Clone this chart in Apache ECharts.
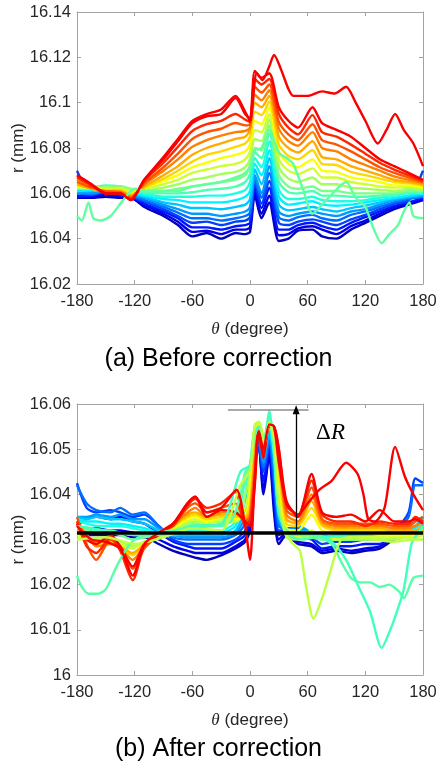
<!DOCTYPE html>
<html>
<head>
<meta charset="utf-8">
<script src="https://cdn.jsdelivr.net/npm/echarts@6/dist/echarts.min.js"></script>
<style>
  html, body { margin: 0; padding: 0; background: #fff; }
  #chart { width: 437px; height: 762px; }
</style>
</head>
<body>
<div id="chart"></div>
<script>
// ---- (a) before correction: theta grid shared by the 20 band lines (dark blue -> red)
const thetaTop = [-180, -165, -150, -135, -124, -110, -90, -75, -60, -45, -30, -15, -5, 0, 5, 12, 20, 30, 40, 50, 65, 75, 90, 105, 120, 135, 150, 165, 180];

const beforeLines = [
  [16.058, 16.058, 16.0585, 16.058, 16.058, 16.054, 16.050, 16.046, 16.041, 16.0425, 16.040, 16.0425, 16.042, 16.043, 16.059, 16.049, 16.056, 16.039, 16.040, 16.0435, 16.044, 16.041, 16.040, 16.044, 16.047, 16.050, 16.053, 16.055, 16.057],
  [16.059, 16.0585, 16.0595, 16.0585, 16.058, 16.055, 16.051, 16.0475, 16.043, 16.0435, 16.042, 16.044, 16.044, 16.045, 16.061, 16.051, 16.059, 16.0415, 16.042, 16.0445, 16.0455, 16.044, 16.042, 16.0455, 16.048, 16.051, 16.054, 16.0555, 16.0575],
  [16.0585, 16.059, 16.060, 16.059, 16.0585, 16.0555, 16.052, 16.049, 16.045, 16.045, 16.044, 16.0455, 16.046, 16.047, 16.0625, 16.0535, 16.0625, 16.044, 16.044, 16.046, 16.047, 16.0455, 16.044, 16.047, 16.0495, 16.052, 16.0545, 16.056, 16.058],
  [16.070, 16.060, 16.0605, 16.0595, 16.0585, 16.0565, 16.053, 16.050, 16.047, 16.0475, 16.046, 16.0475, 16.048, 16.0495, 16.0645, 16.0555, 16.0655, 16.047, 16.046, 16.0475, 16.0485, 16.0475, 16.046, 16.0485, 16.0505, 16.053, 16.0555, 16.057, 16.070],
  [16.060, 16.0595, 16.061, 16.060, 16.059, 16.057, 16.054, 16.0515, 16.049, 16.049, 16.048, 16.049, 16.050, 16.0515, 16.066, 16.058, 16.069, 16.0495, 16.048, 16.0495, 16.0505, 16.049, 16.048, 16.0505, 16.052, 16.054, 16.056, 16.0575, 16.0585],
  [16.0605, 16.060, 16.061, 16.060, 16.059, 16.058, 16.055, 16.053, 16.051, 16.051, 16.050, 16.051, 16.052, 16.054, 16.068, 16.060, 16.072, 16.052, 16.050, 16.051, 16.052, 16.051, 16.050, 16.052, 16.053, 16.055, 16.057, 16.058, 16.059],
  [16.061, 16.061, 16.062, 16.061, 16.060, 16.0585, 16.056, 16.055, 16.0535, 16.0535, 16.053, 16.054, 16.055, 16.0575, 16.0705, 16.064, 16.0755, 16.055, 16.0525, 16.053, 16.054, 16.053, 16.052, 16.0535, 16.0545, 16.056, 16.0575, 16.0585, 16.0595],
  [16.061, 16.0615, 16.0625, 16.062, 16.0605, 16.059, 16.0575, 16.057, 16.056, 16.056, 16.056, 16.057, 16.0585, 16.061, 16.073, 16.068, 16.079, 16.0585, 16.055, 16.0555, 16.0565, 16.055, 16.0545, 16.055, 16.056, 16.057, 16.058, 16.059, 16.060],
  [16.062, 16.062, 16.063, 16.0625, 16.061, 16.060, 16.0585, 16.0585, 16.0585, 16.059, 16.059, 16.060, 16.0615, 16.065, 16.0755, 16.0715, 16.083, 16.0615, 16.0575, 16.0575, 16.0585, 16.057, 16.0565, 16.0565, 16.057, 16.058, 16.059, 16.060, 16.060],
  [16.062, 16.0625, 16.0635, 16.063, 16.0615, 16.0605, 16.060, 16.060, 16.0605, 16.0615, 16.062, 16.063, 16.065, 16.0685, 16.078, 16.0755, 16.0865, 16.065, 16.0605, 16.060, 16.061, 16.059, 16.059, 16.0585, 16.0585, 16.059, 16.0595, 16.0605, 16.0605],
  [16.062, 16.062, 16.063, 16.063, 16.062, 16.061, 16.061, 16.062, 16.063, 16.064, 16.065, 16.066, 16.068, 16.072, 16.080, 16.079, 16.090, 16.068, 16.063, 16.062, 16.063, 16.061, 16.061, 16.060, 16.060, 16.060, 16.060, 16.061, 16.061],
  [16.063, 16.063, 16.0625, 16.0625, 16.0615, 16.0615, 16.0625, 16.064, 16.066, 16.067, 16.0685, 16.0695, 16.0715, 16.075, 16.084, 16.083, 16.0925, 16.0715, 16.0665, 16.065, 16.067, 16.064, 16.064, 16.0625, 16.062, 16.0615, 16.061, 16.062, 16.0615],
  [16.0625, 16.0625, 16.062, 16.062, 16.061, 16.062, 16.064, 16.066, 16.069, 16.0705, 16.072, 16.073, 16.075, 16.0785, 16.088, 16.087, 16.095, 16.075, 16.070, 16.0685, 16.071, 16.067, 16.067, 16.065, 16.064, 16.063, 16.0625, 16.063, 16.062],
  [16.0635, 16.062, 16.0615, 16.0615, 16.060, 16.0625, 16.0655, 16.068, 16.0715, 16.0735, 16.0755, 16.077, 16.0785, 16.0815, 16.092, 16.0905, 16.098, 16.0785, 16.073, 16.0715, 16.075, 16.070, 16.0695, 16.067, 16.066, 16.065, 16.0635, 16.0635, 16.063],
  [16.064, 16.0625, 16.061, 16.0615, 16.0595, 16.0625, 16.0665, 16.070, 16.074, 16.077, 16.0785, 16.0805, 16.082, 16.085, 16.096, 16.0945, 16.1005, 16.0815, 16.0765, 16.075, 16.079, 16.073, 16.0725, 16.0695, 16.068, 16.0665, 16.065, 16.0645, 16.0635],
  [16.064, 16.062, 16.061, 16.061, 16.059, 16.063, 16.068, 16.072, 16.077, 16.080, 16.082, 16.084, 16.085, 16.088, 16.100, 16.098, 16.103, 16.085, 16.080, 16.078, 16.083, 16.076, 16.075, 16.072, 16.070, 16.068, 16.066, 16.065, 16.064],
  [16.066, 16.063, 16.0605, 16.0605, 16.0585, 16.064, 16.070, 16.075, 16.0805, 16.0835, 16.0855, 16.087, 16.0875, 16.089, 16.1035, 16.101, 16.1055, 16.0885, 16.083, 16.081, 16.087, 16.080, 16.0785, 16.075, 16.0725, 16.070, 16.0675, 16.066, 16.0645],
  [16.065, 16.0625, 16.061, 16.0605, 16.058, 16.0645, 16.0715, 16.0775, 16.084, 16.087, 16.0885, 16.091, 16.090, 16.0905, 16.107, 16.1045, 16.108, 16.0915, 16.086, 16.0835, 16.0905, 16.0835, 16.0815, 16.0785, 16.075, 16.0715, 16.069, 16.067, 16.065],
  [16.067, 16.0635, 16.060, 16.060, 16.0575, 16.0655, 16.0735, 16.0805, 16.0875, 16.0905, 16.092, 16.095, 16.0925, 16.0915, 16.1105, 16.108, 16.1105, 16.095, 16.089, 16.086, 16.0945, 16.087, 16.085, 16.0815, 16.0775, 16.0735, 16.0705, 16.068, 16.0655],
  [16.068, 16.064, 16.060, 16.060, 16.057, 16.066, 16.075, 16.083, 16.091, 16.094, 16.095, 16.102, 16.095, 16.093, 16.114, 16.111, 16.113, 16.098, 16.092, 16.089, 16.098, 16.091, 16.088, 16.085, 16.080, 16.075, 16.072, 16.069, 16.066]
];

// the two stray traces of panel (a)
const greenTopTheta = [-180, -175, -168, -163, -155, -145, -132, -120, -105, -90, -75, -60, -45, -30, -15, -5, 0, 5, 12, 20, 30, 40, 45, 55, 65, 75, 86, 100, 110, 120, 128, 137, 145, 154, 160, 166, 170, 180];
const greenTopR = [16.050, 16.048, 16.056, 16.049, 16.048, 16.050, 16.057, 16.062, 16.061, 16.061, 16.061, 16.063, 16.064, 16.065, 16.067, 16.069, 16.072, 16.079, 16.080, 16.088, 16.078, 16.075, 16.073, 16.062, 16.051, 16.055, 16.060, 16.065, 16.058, 16.054, 16.045, 16.038, 16.042, 16.046, 16.052, 16.056, 16.050, 16.049];
const redTopTheta = [-180, -165, -150, -135, -124, -110, -90, -75, -60, -45, -30, -15, -5, 0, 7, 13, 20, 25, 32, 40, 45, 60, 75, 88, 100, 110, 120, 133, 142, 151, 160, 170, 180];
const redTopR = [16.068, 16.064, 16.060, 16.060, 16.057, 16.066, 16.076, 16.084, 16.092, 16.095, 16.097, 16.103, 16.096, 16.092, 16.113, 16.110, 16.116, 16.121, 16.115, 16.106, 16.103, 16.103, 16.105, 16.104, 16.107, 16.100, 16.092, 16.082, 16.088, 16.095, 16.088, 16.082, 16.072];

// ---- (b) after correction
const thetaBottom = [-180, -170, -160, -145, -135, -122, -110, -95, -80, -65, -57, -45, -30, -15, -5, 0, 5, 9, 14, 20, 25, 30, 38, 50, 64, 75, 90, 105, 120, 135, 150, 165, 172, 180];

const afterLines = [
  [16.0315, 16.031, 16.031, 16.031, 16.031, 16.0305, 16.0305, 16.029, 16.0275, 16.0265, 16.026, 16.0255, 16.0265, 16.028, 16.0295, 16.032, 16.046, 16.0515, 16.040, 16.0485, 16.036, 16.029, 16.031, 16.029, 16.0285, 16.027, 16.0275, 16.027, 16.0275, 16.028, 16.030, 16.031, 16.0315, 16.0315],
  [16.032, 16.032, 16.0325, 16.032, 16.032, 16.0315, 16.031, 16.030, 16.0285, 16.0275, 16.027, 16.027, 16.027, 16.0285, 16.030, 16.033, 16.047, 16.051, 16.041, 16.049, 16.038, 16.030, 16.0315, 16.0295, 16.029, 16.0275, 16.028, 16.0275, 16.028, 16.0285, 16.0305, 16.0315, 16.032, 16.032],
  [16.033, 16.0345, 16.035, 16.0345, 16.035, 16.034, 16.0335, 16.0315, 16.0295, 16.0285, 16.028, 16.028, 16.028, 16.0295, 16.031, 16.035, 16.048, 16.0505, 16.043, 16.050, 16.040, 16.031, 16.0315, 16.0305, 16.030, 16.028, 16.0285, 16.0285, 16.029, 16.029, 16.031, 16.032, 16.033, 16.033],
  [16.0425, 16.037, 16.036, 16.0365, 16.036, 16.035, 16.0355, 16.033, 16.030, 16.029, 16.029, 16.029, 16.029, 16.030, 16.032, 16.037, 16.049, 16.050, 16.045, 16.051, 16.042, 16.032, 16.032, 16.031, 16.0305, 16.029, 16.0295, 16.0295, 16.030, 16.030, 16.032, 16.036, 16.0435, 16.0425],
  [16.042, 16.038, 16.0365, 16.036, 16.037, 16.0355, 16.036, 16.033, 16.0305, 16.030, 16.030, 16.030, 16.030, 16.031, 16.0335, 16.040, 16.050, 16.051, 16.046, 16.052, 16.044, 16.033, 16.0325, 16.0325, 16.031, 16.030, 16.030, 16.030, 16.0305, 16.031, 16.032, 16.035, 16.042, 16.042],
  [16.035, 16.035, 16.0355, 16.035, 16.0355, 16.0345, 16.0345, 16.0325, 16.031, 16.0305, 16.0305, 16.0305, 16.0305, 16.0315, 16.035, 16.043, 16.051, 16.052, 16.047, 16.053, 16.046, 16.034, 16.032, 16.033, 16.0315, 16.0305, 16.0305, 16.0305, 16.031, 16.0315, 16.0325, 16.033, 16.034, 16.035],
  [16.035, 16.0345, 16.035, 16.0345, 16.0345, 16.034, 16.0335, 16.032, 16.031, 16.031, 16.031, 16.031, 16.031, 16.032, 16.037, 16.045, 16.052, 16.053, 16.048, 16.054, 16.048, 16.035, 16.032, 16.032, 16.0315, 16.031, 16.0305, 16.031, 16.031, 16.0315, 16.032, 16.0325, 16.033, 16.035],
  [16.0345, 16.034, 16.034, 16.0335, 16.0335, 16.033, 16.0325, 16.0315, 16.031, 16.0315, 16.0315, 16.0315, 16.0315, 16.033, 16.040, 16.046, 16.053, 16.0535, 16.049, 16.055, 16.049, 16.036, 16.032, 16.0315, 16.031, 16.0305, 16.031, 16.031, 16.031, 16.0315, 16.032, 16.032, 16.0325, 16.0345],
  [16.034, 16.0335, 16.033, 16.033, 16.033, 16.0325, 16.032, 16.0315, 16.0315, 16.032, 16.032, 16.032, 16.032, 16.034, 16.043, 16.0465, 16.054, 16.054, 16.050, 16.056, 16.050, 16.037, 16.0315, 16.031, 16.031, 16.0305, 16.0305, 16.0305, 16.031, 16.031, 16.0315, 16.032, 16.032, 16.034],
  [16.033, 16.0325, 16.032, 16.032, 16.0315, 16.031, 16.031, 16.031, 16.0315, 16.0325, 16.033, 16.033, 16.033, 16.0355, 16.045, 16.046, 16.0545, 16.055, 16.051, 16.057, 16.051, 16.038, 16.0315, 16.031, 16.0305, 16.030, 16.0305, 16.0305, 16.0305, 16.0305, 16.031, 16.0315, 16.0315, 16.033],
  [16.0325, 16.032, 16.0315, 16.0315, 16.031, 16.030, 16.0305, 16.031, 16.032, 16.033, 16.0335, 16.033, 16.0335, 16.035, 16.044, 16.046, 16.055, 16.0555, 16.0515, 16.0575, 16.051, 16.038, 16.031, 16.0305, 16.0305, 16.030, 16.030, 16.030, 16.030, 16.030, 16.0305, 16.031, 16.031, 16.0325],
  [16.031, 16.0305, 16.030, 16.0305, 16.0295, 16.0285, 16.0295, 16.0305, 16.032, 16.0335, 16.034, 16.0335, 16.034, 16.034, 16.040, 16.045, 16.055, 16.056, 16.0515, 16.0565, 16.052, 16.039, 16.0305, 16.030, 16.031, 16.030, 16.030, 16.030, 16.030, 16.030, 16.030, 16.0305, 16.0305, 16.031],
  [16.031, 16.030, 16.0295, 16.030, 16.029, 16.028, 16.0295, 16.0305, 16.0325, 16.034, 16.0345, 16.0335, 16.0345, 16.034, 16.037, 16.043, 16.0555, 16.056, 16.051, 16.0555, 16.053, 16.041, 16.031, 16.0305, 16.032, 16.0305, 16.030, 16.0305, 16.0305, 16.0305, 16.0305, 16.0305, 16.0305, 16.031],
  [16.0315, 16.030, 16.029, 16.0295, 16.0285, 16.027, 16.029, 16.031, 16.0325, 16.0345, 16.035, 16.034, 16.035, 16.0345, 16.0355, 16.040, 16.053, 16.0555, 16.051, 16.055, 16.0535, 16.043, 16.0325, 16.032, 16.0355, 16.032, 16.0315, 16.0315, 16.0315, 16.031, 16.031, 16.031, 16.031, 16.0315],
  [16.032, 16.0305, 16.0295, 16.0295, 16.028, 16.0265, 16.029, 16.031, 16.033, 16.035, 16.0355, 16.0345, 16.035, 16.035, 16.035, 16.038, 16.051, 16.055, 16.051, 16.055, 16.054, 16.045, 16.0335, 16.033, 16.037, 16.033, 16.032, 16.032, 16.032, 16.032, 16.0315, 16.0315, 16.0315, 16.032],
  [16.033, 16.031, 16.0295, 16.030, 16.0285, 16.027, 16.029, 16.0315, 16.033, 16.0355, 16.036, 16.035, 16.0355, 16.0355, 16.0345, 16.0365, 16.049, 16.055, 16.0515, 16.055, 16.054, 16.047, 16.0345, 16.0335, 16.0385, 16.0335, 16.0325, 16.0325, 16.0325, 16.0325, 16.032, 16.032, 16.032, 16.033],
  [16.034, 16.031, 16.0285, 16.029, 16.028, 16.0255, 16.0285, 16.0315, 16.0335, 16.036, 16.037, 16.035, 16.036, 16.036, 16.034, 16.0355, 16.047, 16.0545, 16.050, 16.055, 16.0545, 16.048, 16.0355, 16.034, 16.040, 16.034, 16.033, 16.033, 16.033, 16.033, 16.0325, 16.0325, 16.033, 16.034],
  [16.035, 16.029, 16.0255, 16.030, 16.028, 16.0235, 16.028, 16.031, 16.0335, 16.037, 16.038, 16.036, 16.037, 16.038, 16.034, 16.035, 16.045, 16.0545, 16.0495, 16.0555, 16.055, 16.049, 16.0365, 16.035, 16.0415, 16.0345, 16.0335, 16.0335, 16.0335, 16.0335, 16.033, 16.033, 16.034, 16.035],
  [16.034, 16.0285, 16.027, 16.0305, 16.0275, 16.021, 16.0285, 16.0315, 16.033, 16.0375, 16.039, 16.037, 16.038, 16.0405, 16.033, 16.034, 16.043, 16.0545, 16.049, 16.0555, 16.055, 16.050, 16.0375, 16.0355, 16.043, 16.0355, 16.034, 16.034, 16.033, 16.034, 16.0335, 16.0335, 16.035, 16.034],
  [16.0335, 16.030, 16.029, 16.031, 16.0285, 16.024, 16.029, 16.031, 16.0335, 16.038, 16.0395, 16.035, 16.0365, 16.036, 16.034, 16.033, 16.042, 16.054, 16.048, 16.055, 16.055, 16.050, 16.0385, 16.035, 16.0445, 16.036, 16.035, 16.0355, 16.034, 16.0365, 16.034, 16.034, 16.0345, 16.0335]
];

const redBottomTheta = [-180, -165, -150, -135, -122, -110, -95, -80, -65, -57, -45, -30, -14, -5, 0, 5, 9, 14, 20, 25, 30, 38, 50, 60, 72, 85, 100, 112, 118, 123, 130, 140, 151, 161, 170, 180];
const redBottomR = [16.033, 16.030, 16.0295, 16.028, 16.022, 16.029, 16.0315, 16.0335, 16.038, 16.0395, 16.036, 16.037, 16.041, 16.033, 16.0255, 16.044, 16.054, 16.050, 16.0555, 16.055, 16.047, 16.038, 16.0355, 16.038, 16.041, 16.043, 16.047, 16.0445, 16.040, 16.0345, 16.034, 16.037, 16.0505, 16.044, 16.040, 16.0365];
const mintBottomTheta = [-180, -175, -168, -158, -150, -140, -130, -120, -100, -80, -60, -40, -20, -5, 0, 5, 10, 15, 20, 25, 30, 40, 55, 70, 85, 95, 105, 115, 125, 135, 145, 155, 160, 170, 180];
const mintBottomR = [16.022, 16.0195, 16.018, 16.018, 16.019, 16.0235, 16.0275, 16.030, 16.0315, 16.032, 16.0325, 16.033, 16.034, 16.043, 16.046, 16.053, 16.0545, 16.052, 16.057, 16.050, 16.036, 16.031, 16.030, 16.0305, 16.029, 16.025, 16.0215, 16.0205, 16.0205, 16.0195, 16.020, 16.0185, 16.017, 16.0215, 16.022];
const tealBottomTheta = [-180, -150, -120, -90, -60, -30, -10, 0, 5, 10, 15, 20, 25, 30, 40, 55, 70, 85, 100, 112, 125, 137, 145, 152, 160, 168, 175, 180];
const tealBottomR = [16.033, 16.032, 16.031, 16.031, 16.033, 16.0335, 16.045, 16.0465, 16.054, 16.055, 16.052, 16.0585, 16.049, 16.036, 16.0315, 16.031, 16.031, 16.0295, 16.0255, 16.020, 16.014, 16.006, 16.0095, 16.0135, 16.019, 16.029, 16.0315, 16.033];
const limeBottomTheta = [-180, -150, -120, -90, -60, -30, -10, 0, 5, 10, 15, 20, 25, 30, 38, 45, 52, 58, 66, 75, 83, 95, 110, 130, 150, 170, 180];
const limeBottomR = [16.030, 16.0305, 16.029, 16.0305, 16.0325, 16.032, 16.042, 16.0455, 16.055, 16.056, 16.051, 16.056, 16.052, 16.038, 16.031, 16.029, 16.0275, 16.020, 16.0125, 16.017, 16.0225, 16.030, 16.0305, 16.030, 16.0295, 16.030, 16.030];

// Delta R annotation
const baselineR = 16.0316;
const peakR = 16.0587;
const arrowTheta = 48;
const capTheta = [-23, 61];

const FONT = '"Liberation Sans", Helvetica, Arial, sans-serif';
const SERIF = '"Liberation Serif", "Times New Roman", serif';
const GRAY = '#a3a3a3';
const INK = '#262626';

// MATLAB jet colormap
function jet(t) {
  const c = x => Math.round(255 * Math.max(0, Math.min(1, 1.5 - Math.abs(4 * t - x))));
  return 'rgb(' + c(3) + ',' + c(2) + ',' + c(1) + ')';
}
const bandColor = k => jet(0.06 + 0.82 * k / 19);

function trace(thetas, values, color, panel) {
  return {
    type: 'line',
    xAxisIndex: panel * 2,
    yAxisIndex: panel * 2,
    data: thetas.map((t, i) => [t, values[i]]),
    symbol: 'none',
    showSymbol: false,
    smooth: 0.25,
    silent: true,
    lineStyle: { color: color, width: 2.4 },
    emphasis: { disabled: true }
  };
}

function xAxes(panel) {
  const common = {
    gridIndex: panel, type: 'value', min: -180, max: 180, interval: 60,
    axisLine: { onZero: false, lineStyle: { color: GRAY, width: 1 } },
    axisTick: { inside: true, length: 4, lineStyle: { color: GRAY } },
    splitLine: { show: false }
  };
  return [
    Object.assign({}, common, {
      position: 'bottom',
      axisLabel: { color: INK, fontSize: 16.5, fontFamily: FONT, margin: 9 },
      name: '{t|θ} (degree)',
      nameLocation: 'middle',
      nameGap: 37,
      nameMoveOverlap: false,
      nameTextStyle: {
        color: INK, fontSize: 17, fontFamily: FONT,
        rich: { t: { fontFamily: SERIF, fontStyle: 'italic', fontSize: 17, color: INK } }
      }
    }),
    Object.assign({}, common, { position: 'top', axisLabel: { show: false } })
  ];
}

function yAxes(panel, min, max, interval) {
  const common = {
    gridIndex: panel, type: 'value', min: min, max: max, interval: interval,
    axisLine: { onZero: false, lineStyle: { color: GRAY, width: 1 } },
    axisTick: { inside: true, length: 4, lineStyle: { color: GRAY } },
    splitLine: { show: false }
  };
  return [
    Object.assign({}, common, {
      position: 'left',
      axisLabel: {
        color: INK, fontSize: 16.5, fontFamily: FONT, margin: 6,
        formatter: v => String(+v.toFixed(2))
      },
      name: 'r (mm)',
      nameLocation: 'middle',
      nameGap: 50,
      nameRotate: 90,
      nameMoveOverlap: false,
      nameTextStyle: { color: INK, fontSize: 17, fontFamily: FONT }
    }),
    Object.assign({}, common, { position: 'right', axisLabel: { show: false } })
  ];
}

const series = [];
beforeLines.forEach((vals, k) => series.push(trace(thetaTop, vals, bandColor(k), 0)));
series.push(trace(greenTopTheta, greenTopR, jet(0.47), 0));
series.push(trace(redTopTheta, redTopR, jet(0.88), 0));

afterLines.forEach((vals, k) => series.push(trace(thetaBottom, vals, bandColor(k), 1)));
series.push(trace(mintBottomTheta, mintBottomR, jet(0.46), 1));
series.push(trace(tealBottomTheta, tealBottomR, jet(0.44), 1));
series.push(trace(limeBottomTheta, limeBottomR, jet(0.56), 1));
series.push(trace(redBottomTheta, redBottomR, jet(0.88), 1));

// baseline, peak cap and arrow
series.push({
  type: 'line',
  xAxisIndex: 2,
  yAxisIndex: 2,
  data: [],
  z: 20,
  markLine: {
    silent: true,
    animation: false,
    symbol: 'none',
    label: { show: false },
    data: [
      [{ coord: [-180, baselineR], lineStyle: { color: '#000', width: 3.5, type: 'solid' } }, { coord: [180, baselineR] }],
      [{ coord: [capTheta[0], peakR], lineStyle: { color: '#8c8c8c', width: 1.5, type: 'solid' } }, { coord: [capTheta[1], peakR] }],
      [{ coord: [arrowTheta, baselineR], symbol: 'none', lineStyle: { color: '#000', width: 1.3, type: 'solid' } },
       { coord: [arrowTheta, peakR], symbol: 'triangle', symbolSize: [7, 9] }]
    ]
  }
});

const chart = echarts.init(document.getElementById('chart'), null, { renderer: 'canvas' });
chart.setOption({
  animation: false,
  backgroundColor: '#fff',
  grid: [
    { left: 77, top: 12, width: 346, height: 272, outerBoundsMode: 'none' },
    { left: 77, top: 404, width: 346, height: 271, outerBoundsMode: 'none' }
  ],
  xAxis: xAxes(0).concat(xAxes(1)),
  yAxis: yAxes(0, 16.02, 16.14, 0.02).concat(yAxes(1, 16, 16.06, 0.01)),
  title: [
    { text: '(a) Before correction', left: 'center', top: 342, textStyle: { fontSize: 25, fontWeight: 'normal', color: '#000', fontFamily: FONT } },
    { text: '(b) After correction', left: 'center', top: 732, textStyle: { fontSize: 25, fontWeight: 'normal', color: '#000', fontFamily: FONT } }
  ],
  graphic: [
    { type: 'text', left: 316, top: 421, z: 30, style: { text: 'Δ', font: '23px "Liberation Serif"', fill: '#000' } },
    { type: 'text', left: 331, top: 421, z: 30, style: { text: 'R', font: 'italic 23px "Liberation Serif"', fill: '#000' } }
  ],
  series: series
});
</script>
</body>
</html>
